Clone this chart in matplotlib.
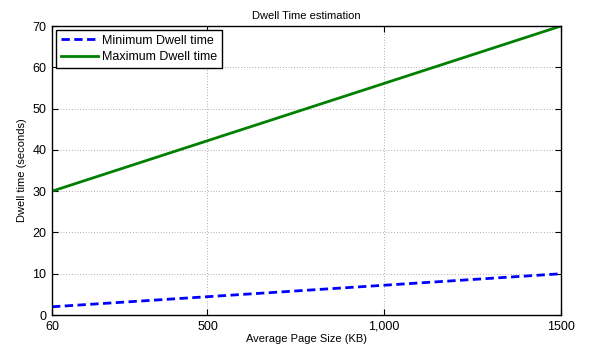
from matplotlib import pyplot as plt

page_size = [60, 1500]
min_dwell = [2, 10]
max_dwell = [30, 70]
x_ticks = [60, 500, 1000, 1500]
x_tick_labels = ['60', '500', '1,000', '1500']
y_ticks = [0, 10, 20, 30, 40, 50, 60, 70]

plt.rcParams['font.family'] = ['Liberation Sans', 'DejaVu Sans']
plt.rcParams['font.size'] = 9

fig = plt.figure(figsize=(5.91, 3.52), dpi=100)
ax = fig.add_axes([0.088, 0.105, 0.861, 0.821])

ax.plot(page_size, min_dwell, color='blue', linestyle='--', linewidth=2, dashes=(3, 1.6),
        label='Minimum Dwell time')
ax.plot(page_size, max_dwell, color='green', linestyle='-', linewidth=2,
        label='Maximum Dwell time')

ax.set_xlim(60, 1500)
ax.set_ylim(0, 70)
ax.set_xticks(x_ticks)
ax.set_xticklabels(x_tick_labels)
ax.set_yticks(y_ticks)
ax.tick_params(direction='in', length=4, width=0.8, top=True, right=True, labelsize=9,
               pad=4)
ax.grid(True, linestyle=(0, (1, 3)), color='black', linewidth=0.5, alpha=0.6)
for s in ax.spines.values():
    s.set_linewidth(1.0)

ax.set_title('Dwell Time estimation', fontsize=8, pad=5)
ax.set_xlabel('Average Page Size (KB)', fontsize=8, labelpad=1)
ax.set_ylabel('Dwell time (seconds)', fontsize=8, labelpad=4)

leg = ax.legend(loc='upper left', fancybox=False, framealpha=1, edgecolor='black',
                fontsize=9, borderaxespad=0.35, handlelength=3.0, borderpad=0.35,
                labelspacing=0.35, handletextpad=0.3)
leg.get_frame().set_linewidth(1.0)

fig.savefig('out.png', dpi=100)
